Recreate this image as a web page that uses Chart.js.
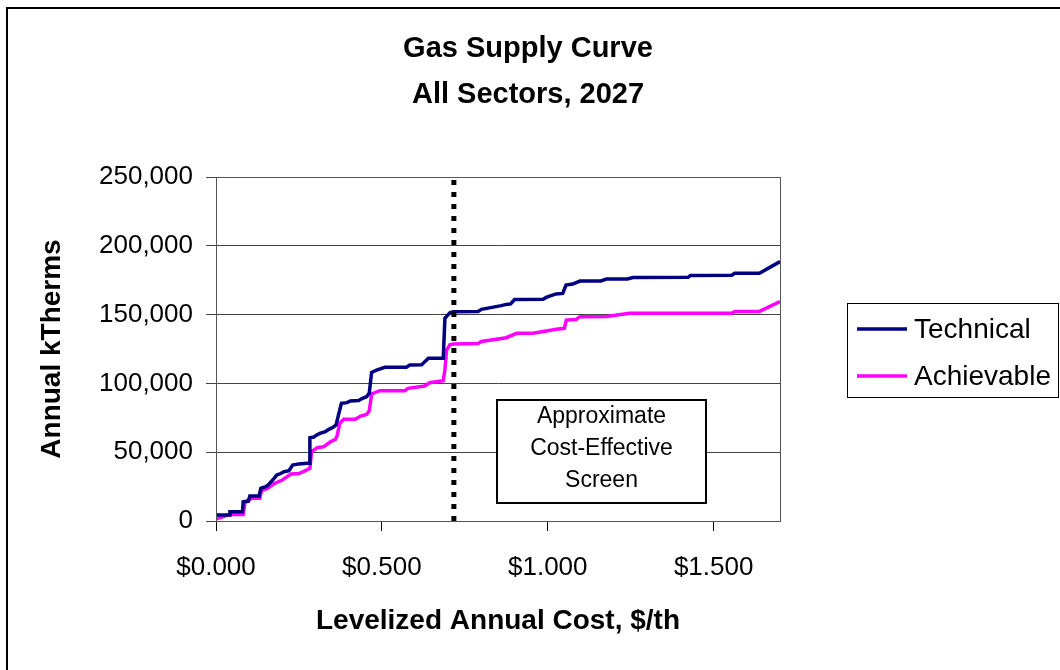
<!DOCTYPE html>
<html>
<head>
<meta charset="utf-8">
<script src="https://cdn.jsdelivr.net/npm/chart.js@4/dist/chart.umd.min.js"></script>
<style>
  html, body { margin: 0; padding: 0; background: #fff; }
  #wrap { width: 1060px; height: 670px; position: relative; }
</style>
</head>
<body>
<div id="wrap"><canvas id="supplyChart" width="1060" height="670"></canvas></div>
<script>
// 曲線數據 (成本 $/th, 年節省量 kTherms)
const techCost = [0, 0.040, 0.042, 0.080, 0.082, 0.098, 0.102, 0.130, 0.135, 0.150, 0.157, 0.175, 0.183, 0.195, 0.205, 0.220, 0.231, 0.250, 0.275, 0.281, 0.283, 0.295, 0.300, 0.313, 0.330, 0.340, 0.352, 0.362, 0.367, 0.378, 0.395, 0.405, 0.430, 0.440, 0.454, 0.462, 0.469, 0.484, 0.509, 0.574, 0.584, 0.620, 0.630, 0.640, 0.685, 0.690, 0.705, 0.715, 0.790, 0.800, 0.860, 0.875, 0.888, 0.900, 0.986, 0.995, 1.025, 1.045, 1.055, 1.075, 1.097, 1.160, 1.177, 1.240, 1.257, 1.423, 1.430, 1.555, 1.563, 1.638, 1.700];
const techSavings = [4400, 4400, 6800, 6800, 14000, 14500, 18200, 18200, 23700, 25000, 26100, 31000, 33400, 34500, 35800, 36500, 40700, 41500, 42000, 42000, 60500, 61000, 62000, 63700, 65000, 66600, 68000, 69800, 75000, 85500, 86000, 87200, 87500, 89000, 90300, 93000, 108000, 109700, 111700, 111700, 113300, 113500, 116000, 118200, 118200, 147300, 151400, 152100, 152300, 153800, 156500, 157400, 157800, 161000, 161200, 162500, 165000, 165400, 171500, 172200, 174400, 174500, 175800, 175900, 177000, 177100, 178500, 178600, 180000, 180000, 188500];

const achCost = [0, 0.020, 0.042, 0.082, 0.087, 0.100, 0.102, 0.132, 0.137, 0.155, 0.177, 0.200, 0.226, 0.250, 0.273, 0.283, 0.288, 0.305, 0.325, 0.345, 0.360, 0.365, 0.373, 0.385, 0.420, 0.436, 0.454, 0.462, 0.469, 0.494, 0.569, 0.579, 0.629, 0.644, 0.685, 0.690, 0.695, 0.705, 0.715, 0.790, 0.800, 0.875, 0.906, 0.956, 1.026, 1.050, 1.056, 1.085, 1.097, 1.177, 1.247, 1.555, 1.563, 1.638, 1.700];
const achSavings = [1500, 3000, 4800, 4800, 12800, 16000, 16500, 16500, 22000, 23700, 27400, 29800, 34100, 34500, 37000, 38200, 50400, 53300, 54000, 57600, 59300, 62000, 71000, 73900, 73900, 76300, 77500, 80000, 92300, 94700, 94700, 96400, 98100, 100500, 102000, 110000, 124300, 128000, 128600, 129000, 130500, 133200, 136400, 136400, 139300, 140000, 146000, 146500, 148500, 148600, 150900, 151000, 152300, 152300, 159400];

const seriesLabels = ['Technical', 'Achievable'];
const screenCost = 0.717;          // 成本效益門檻
const screenText = ['Approximate', 'Cost-Effective', 'Screen'];
const screenBoxX = [0.846, 1.476]; // 註解框 (資料座標)
const screenBoxY = [13100, 87900];
const titleLines = ['Gas Supply Curve', 'All Sectors, 2027'];

const FONT = '"Liberation Sans", Arial, Helvetica, sans-serif';

function toPoints(xs, ys) {
    return xs.map((x, i) => ({ x: x, y: ys[i] }));
}

// 外框、標題、繪圖區框線、註解框與圖例
const decorPlugin = {
    id: 'decor',
    beforeDraw(chart) {
        const ctx = chart.ctx;
        ctx.save();
        ctx.fillStyle = '#fff';
        ctx.fillRect(0, 0, chart.width, chart.height);
        ctx.strokeStyle = '#000';
        ctx.lineWidth = 2;
        ctx.beginPath();
        ctx.moveTo(7, chart.height);
        ctx.lineTo(7, 8);
        ctx.lineTo(chart.width, 8);
        ctx.stroke();

        // 標題
        ctx.fillStyle = '#000';
        ctx.font = 'bold 29px ' + FONT;
        ctx.textAlign = 'center';
        ctx.textBaseline = 'middle';
        titleLines.forEach((t, i) => ctx.fillText(t, 528, 49 + i * 46));
        ctx.restore();
    },
    afterDatasetsDraw(chart) {
        const ctx = chart.ctx;
        const a = chart.chartArea;
        const xs = chart.scales.x, ys = chart.scales.y;
        ctx.save();
        // 繪圖區框線
        ctx.strokeStyle = '#555';
        ctx.lineWidth = 1;
        ctx.strokeRect(a.left + 0.5, a.top + 0.5, a.right - a.left, a.bottom - a.top);

        // 註解框
        const bx1 = Math.round(xs.getPixelForValue(screenBoxX[0]));
        const bx2 = Math.round(xs.getPixelForValue(screenBoxX[1]));
        const by1 = Math.round(ys.getPixelForValue(screenBoxY[1]));
        const by2 = Math.round(ys.getPixelForValue(screenBoxY[0]));
        ctx.fillStyle = '#fff';
        ctx.fillRect(bx1, by1, bx2 - bx1, by2 - by1);
        ctx.strokeStyle = '#000';
        ctx.lineWidth = 2;
        ctx.strokeRect(bx1, by1, bx2 - bx1, by2 - by1);
        ctx.fillStyle = '#000';
        ctx.font = '23px ' + FONT;
        ctx.textAlign = 'center';
        ctx.textBaseline = 'middle';
        const cx = (bx1 + bx2) / 2;
        screenText.forEach((t, i) => {
            ctx.fillText(t, cx, by1 + 17 + i * 32);
        });

        // 圖例
        const lx = 847, ly = 303, lw = 211, lh = 94;
        ctx.fillStyle = '#fff';
        ctx.fillRect(lx, ly, lw, lh);
        ctx.strokeStyle = '#000';
        ctx.lineWidth = 1;
        ctx.strokeRect(lx + 0.5, ly + 0.5, lw, lh);
        ctx.font = '28px ' + FONT;
        ctx.textAlign = 'left';
        chart.data.datasets.forEach((ds, i) => {
            if (!ds.label) return;
            const y = ly + 26 + i * 47;
            ctx.strokeStyle = ds.borderColor;
            ctx.lineWidth = 3.5;
            ctx.beginPath();
            ctx.moveTo(lx + 10, y);
            ctx.lineTo(lx + 60, y);
            ctx.stroke();
            ctx.fillStyle = '#000';
            ctx.fillText(ds.label, lx + 67, y + 1);
        });
        ctx.restore();
    }
};

const ctx = document.getElementById('supplyChart').getContext('2d');
new Chart(ctx, {
    type: 'line',
    data: {
        datasets: [
            {
                label: seriesLabels[0],
                data: toPoints(techCost, techSavings),
                borderColor: '#000080',
                borderWidth: 3.5,
                pointRadius: 0,
                tension: 0,
                order: 2
            },
            {
                label: seriesLabels[1],
                data: toPoints(achCost, achSavings),
                borderColor: '#ff00ff',
                borderWidth: 3.5,
                pointRadius: 0,
                tension: 0,
                order: 3
            },
            {
                label: '',
                data: [{ x: screenCost, y: 0 }, { x: screenCost, y: 250000 }],
                borderColor: '#000',
                borderWidth: 5,
                borderDash: [5, 7],
                borderCapStyle: 'butt',
                pointRadius: 0,
                order: 1
            }
        ]
    },
    options: {
        responsive: false,
        animation: false,
        layout: { padding: { left: 0, right: 280, top: 177, bottom: 0 } },
        plugins: {
            legend: { display: false },
            tooltip: { enabled: false },
            title: { display: false }
        },
        scales: {
            x: {
                type: 'linear',
                min: 0,
                max: 1.7,
                afterFit(scale) { scale.height = 149; },
                border: { color: '#000', width: 1 },
                grid: { drawOnChartArea: false, tickLength: 10, color: '#000' },
                ticks: {
                    stepSize: 0.5,
                    includeBounds: false,
                    autoSkip: false,
                    maxRotation: 0,
                    padding: 21,
                    color: '#000',
                    font: { family: FONT, size: 26 },
                    callback: v => '$' + Number(v).toFixed(3)
                },
                title: {
                    display: true,
                    text: 'Levelized Annual Cost, $/th',
                    color: '#000',
                    font: { family: FONT, size: 28, weight: 'bold' },
                    padding: { top: 0, bottom: 32 }
                }
            },
            y: {
                min: 0,
                max: 250000,
                afterFit(scale) { scale.width = 216; },
                border: { color: '#000', width: 1 },
                grid: { color: '#444', lineWidth: 1, tickLength: 10 },
                ticks: {
                    stepSize: 50000,
                    padding: 13,
                    color: '#000',
                    font: { family: FONT, size: 26 },
                    callback: v => v.toLocaleString('en-US')
                },
                title: {
                    display: true,
                    text: 'Annual kTherms',
                    color: '#000',
                    font: { family: FONT, size: 28, weight: 'bold' },
                    padding: { top: 35, bottom: 0 }
                }
            }
        }
    },
    plugins: [decorPlugin]
});
</script>
</body>
</html>
